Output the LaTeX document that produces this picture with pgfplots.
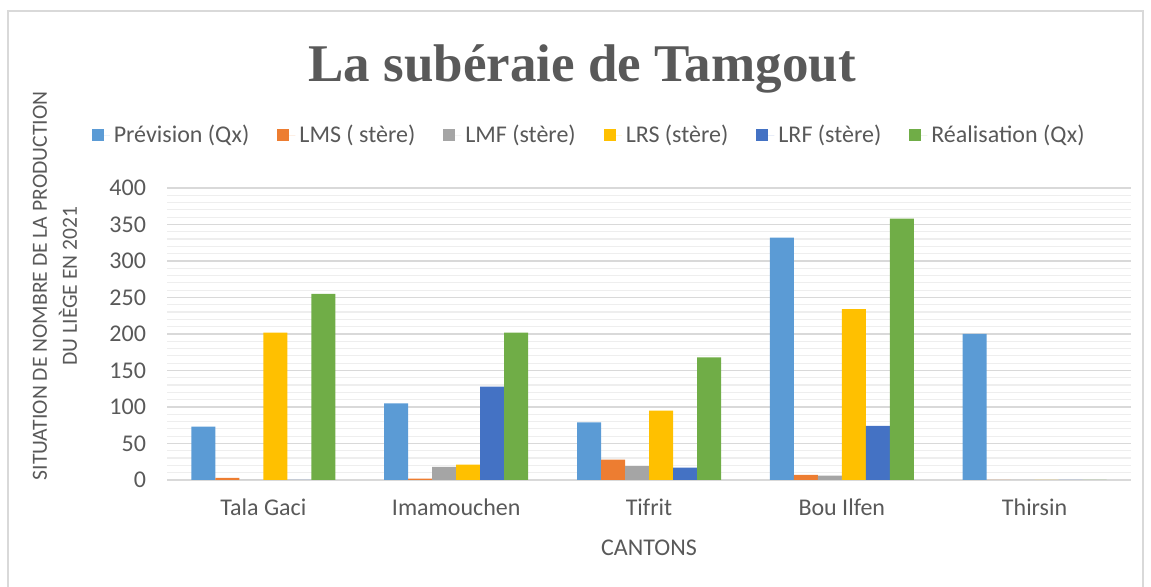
\documentclass[border=0pt]{standalone}
\usepackage{fontspec}
\setmainfont{Carlito}
\newfontfamily\titlefont{Liberation Serif}
\usepackage{pgfplots}
\pgfplotsset{compat=1.18}

\definecolor{txtgray}{HTML}{595959}
\definecolor{gridmaj}{HTML}{D9D9D9}
\definecolor{gridmin}{HTML}{EEEEEE}
\definecolor{cprev}{HTML}{5B9BD5}
\definecolor{clms}{HTML}{ED7D31}
\definecolor{clmf}{HTML}{A5A5A5}
\definecolor{clrs}{HTML}{FFC000}
\definecolor{clrf}{HTML}{4472C4}
\definecolor{creal}{HTML}{70AD47}

\begin{document}
\begin{tikzpicture}
\useasboundingbox (0pt,0pt) rectangle (575.5pt,293.5pt);
% cadre du graphique
\draw[gridmaj, line width=0.6pt] (4pt,-1pt) -- (4pt,288pt) -- (571.5pt,288pt) -- (571.5pt,-1pt);
% titre
\node[txtgray, anchor=center, font=\titlefont\fontsize{26.5}{31}\selectfont\bfseries]
  at (291pt,259pt) {La subéraie de Tamgout};
% titre de l'axe vertical (deux lignes)
\node[txtgray, rotate=90, align=center, anchor=center,
  font=\fontsize{10.8}{15}\selectfont] at (27.5pt,150.5pt)
  {SITUATION DE NOMBRE DE LA PRODUCTION\\DU LIÈGE EN 2021};

\begin{axis}[
  at={(83.5pt,53.5pt)}, anchor=south west,
  scale only axis, width=482pt, height=146pt,
  ybar=0pt, bar width=12pt,
  xmin=-0.5, xmax=4.5, ymin=0, ymax=400,
  xtick={0,1,2,3,4},
  xticklabels={Tala Gaci, Imamouchen, Tifrit, Bou Ilfen, Thirsin},
  ytick={0,50,...,400},
  minor y tick num=4,
  major tick length=0pt, minor tick length=0pt,
  axis line style={draw=none},
  ymajorgrids, yminorgrids,
  major grid style={gridmaj, line width=0.6pt},
  minor grid style={gridmin, line width=0.6pt},
  tick label style={txtgray, font=\fontsize{12}{14}\selectfont},
  /pgf/number format/assume math mode=true,
  xticklabel style={yshift=-6pt},
  yticklabel style={xshift=-7pt},
  xlabel={CANTONS},
  xlabel style={txtgray, font=\fontsize{12}{14}\selectfont,
    at={(axis description cs:0.5,0)}, anchor=center, yshift=-34pt},
  legend columns=6,
  legend style={at={(axis description cs:0.439,1.18)}, anchor=center,
    draw=none, fill=none, text=txtgray, font=\fontsize{12}{14}\selectfont,
    /tikz/every even column/.append style={column sep=12pt}},
  legend image code/.code={\fill[#1] (0pt,-3pt) rectangle (6pt,3pt);
    \path (0pt,0pt) -- (9pt,0pt);},
]
\addplot[fill=cprev, draw=none] coordinates {(0,73) (1,105) (2,79) (3,332) (4,200)};
\addplot[fill=clms, draw=none] coordinates {(0,3) (1,2) (2,28) (3,7) (4,0)};
\addplot[fill=clmf, draw=none] coordinates {(0,0) (1,18) (2,19) (3,6) (4,0)};
\addplot[fill=clrs, draw=none] coordinates {(0,202) (1,21) (2,95) (3,234) (4,0)};
\addplot[fill=clrf, draw=none] coordinates {(0,0) (1,128) (2,17) (3,74) (4,0)};
\addplot[fill=creal, draw=none] coordinates {(0,255) (1,202) (2,168) (3,358) (4,0)};
\legend{Prévision (Qx), LMS ( stère), LMF (stère), LRS (stère), LRF (stère), Réalisation (Qx)}
\end{axis}
\end{tikzpicture}
\end{document}
